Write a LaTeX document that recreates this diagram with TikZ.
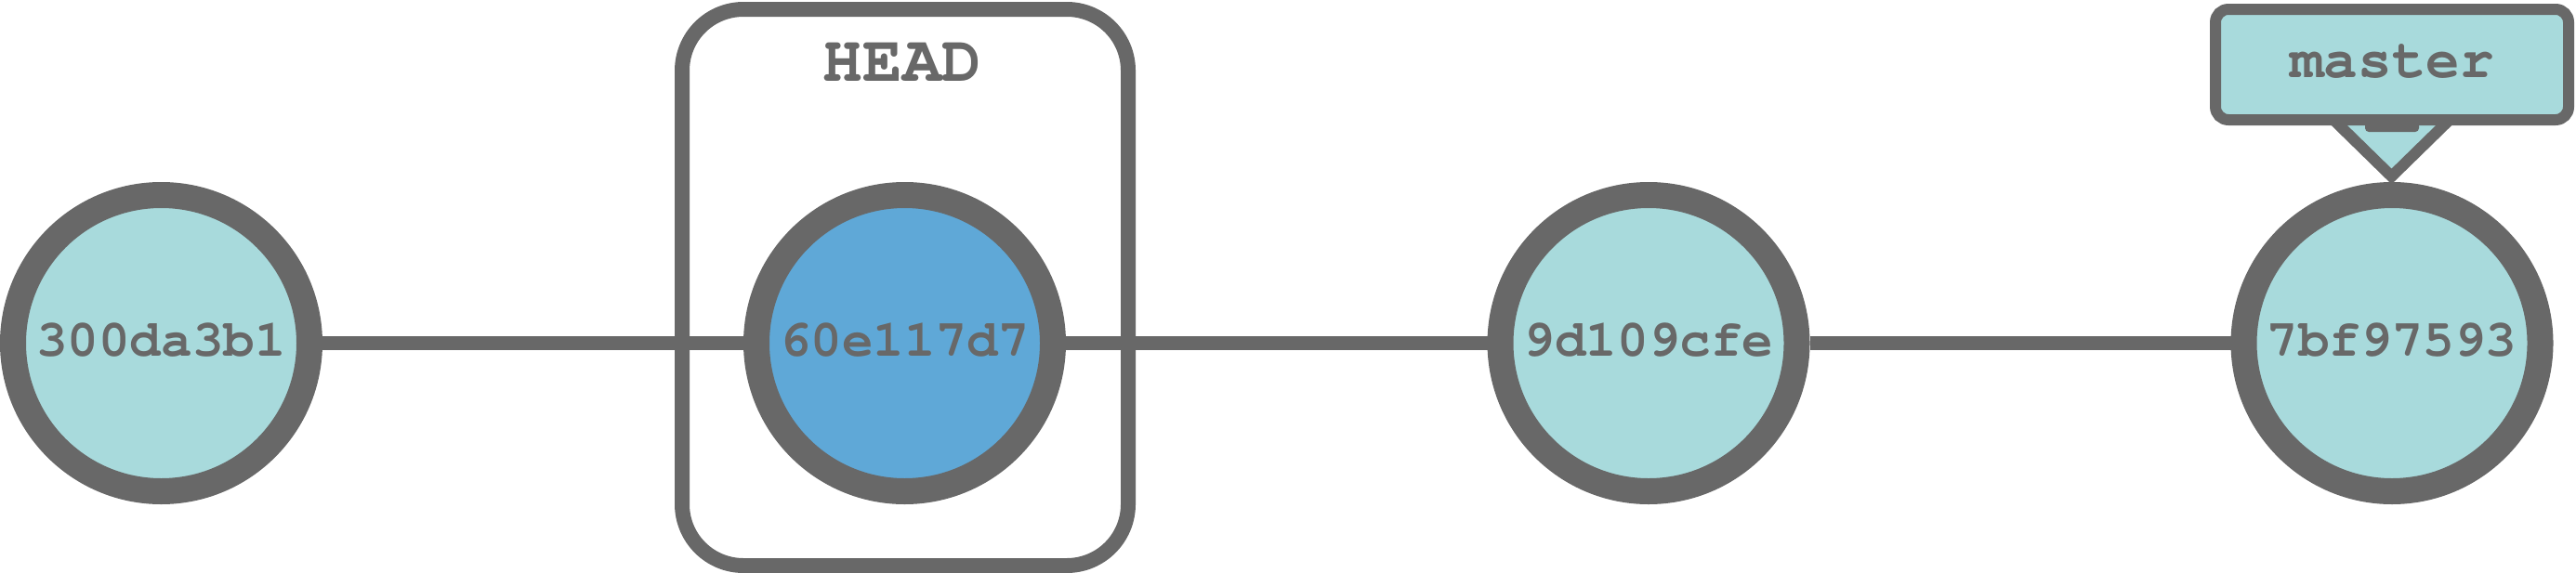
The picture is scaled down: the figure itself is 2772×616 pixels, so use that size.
\documentclass[tikz,border=0pt]{standalone}
\usepackage[T1]{fontenc}
\definecolor{cgray}{HTML}{686868}
\definecolor{cteal}{HTML}{A8DADC}
\definecolor{cblue}{HTML}{5FA8D7}
\newcommand\cfont{\fontencoding{T1}\fontfamily{pcr}\fontseries{b}\selectfont}
\begin{document}
\begin{tikzpicture}[x=1pt,y=-1pt,
  commit/.style={circle, draw=cgray, fill=cteal, line width=28pt, minimum size=319pt, inner sep=0pt},
  edge/.style={draw=cgray, line width=15pt},
  ctext/.style={anchor=base, text=cgray, inner sep=0pt, font=\cfont\fontsize{56}{60}\selectfont},
  headbox/.style={draw=cgray, line width=16pt, rounded corners=66pt},
  branchbox/.style={draw=cgray, fill=cteal, line width=12pt, rounded corners=14pt},
  pointer/.style={draw=cgray, fill=cteal, line width=12pt, line join=miter},
  btext/.style={anchor=base, text=cgray, inner sep=0pt, font=\cfont\fontsize{61}{66}\selectfont},
  htext/.style={anchor=base, text=cgray, inner sep=0pt, font=\cfont\fontsize{71}{76}\selectfont}]
\useasboundingbox (0,0) rectangle (2772,616);
% HEAD box
\draw[headbox] (734,10) rectangle (1214,609);
\node[htext] (headlabel) at (971,87) {HEAD};
% commits
\node[commit] (c1) at (173.5,369.5) {};
\node[commit, fill=cblue] (c2) at (973.5,369.5) {};
\node[commit] (c3) at (1774,369.5) {};
\node[commit] (c4) at (2574,369.5) {};
\draw[edge] (c1) -- (c2);
\draw[edge] (c2) -- (c3);
\draw[edge] (c3) -- (c4);
\node[ctext] (t1) at (173.5,383) {300da3b1};
\node[ctext] (t2) at (973.5,383) {60e117d7};
\node[ctext] (t3) at (1774,383) {9d109cfe};
\node[ctext] (t4) at (2574,383) {7bf97593};
% master branch label
\coordinate (pl) at (2504,122);
\coordinate (pt) at (2573.5,190);
\coordinate (pr) at (2643,122);
\draw[pointer] (pl) -- (pt) -- (pr);
\fill[cgray, rounded corners=4pt] (2545,125) rectangle (2603,142);
\draw[branchbox] (2384,10) rectangle (2764,129);
\node[btext] (master) at (2574,83) {master};
\end{tikzpicture}
\end{document}
